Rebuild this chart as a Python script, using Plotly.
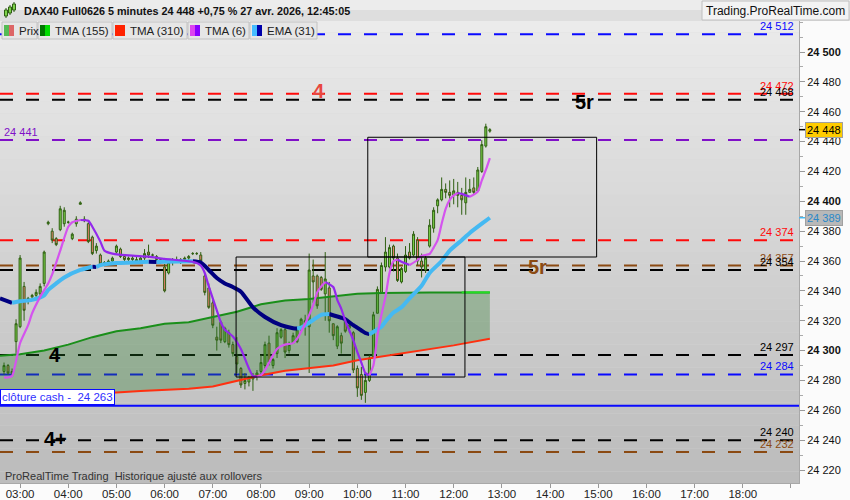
import pandas as pd
import plotly.graph_objects as go

DAY = "2026-04-27 "

# 5 minute bars from 02:40 to 12:45
bar_open = [24286, 24290, 24285, 24306, 24316, 24343, 24333, 24336, 24337, 24338,
            24345, 24385, 24380, 24375, 24381, 24385, 24386, 24375, 24385, 24398,
            24388, 24385, 24376, 24367, 24364, 24359, 24359, 24360, 24366, 24368,
            24363, 24361, 24362, 24361, 24360, 24362, 24366, 24364, 24363, 24361,
            24356, 24352, 24359, 24361, 24360, 24361, 24362, 24365, 24365, 24364,
            24350, 24342, 24332, 24309, 24319, 24306, 24312, 24304, 24296, 24288,
            24278, 24279, 24281, 24283, 24286, 24290, 24305, 24290, 24298, 24309,
            24314, 24300, 24305, 24306, 24314, 24318, 24316, 24350, 24350, 24349,
            24338, 24342, 24318, 24303, 24310, 24320, 24315, 24312, 24288, 24284,
            24272, 24280, 24296, 24325, 24339, 24356, 24356, 24370, 24362, 24346,
            24353, 24366, 24364, 24374, 24360, 24354, 24370, 24382, 24397, 24401,
            24408, 24406, 24404, 24406, 24404, 24399, 24406, 24409, 24407, 24420,
            24437, 24447]
bar_high = [24292, 24291, 24288, 24321, 24364, 24346, 24336, 24338, 24341, 24345,
            24367, 24387, 24382, 24376, 24397, 24396, 24387, 24379, 24390, 24400,
            24390, 24386, 24377, 24372, 24365, 24360, 24361, 24363, 24371, 24369,
            24364, 24363, 24364, 24363, 24363, 24368, 24371, 24365, 24364, 24362,
            24358, 24360, 24362, 24363, 24362, 24363, 24364, 24366, 24366, 24366,
            24352, 24345, 24334, 24316, 24320, 24316, 24314, 24306, 24309, 24289,
            24285, 24283, 24285, 24287, 24297, 24306, 24310, 24295, 24315, 24315,
            24316, 24306, 24312, 24316, 24322, 24324, 24365, 24361, 24351, 24350,
            24366, 24346, 24318, 24317, 24312, 24321, 24319, 24313, 24290, 24289,
            24285, 24297, 24326, 24343, 24359, 24376, 24371, 24371, 24365, 24356,
            24370, 24372, 24380, 24376, 24365, 24364, 24388, 24396, 24402, 24416,
            24412, 24414, 24415, 24413, 24409, 24416, 24415, 24416, 24423, 24441,
            24452, 24449]
bar_low = [24284, 24284, 24283, 24298, 24315, 24320, 24331, 24335, 24335, 24336,
           24343, 24384, 24372, 24370, 24380, 24383, 24385, 24374, 24383, 24398,
           24386, 24372, 24364, 24365, 24357, 24358, 24357, 24359, 24365, 24362,
           24360, 24359, 24360, 24359, 24359, 24360, 24362, 24363, 24360, 24358,
           24339, 24351, 24357, 24359, 24358, 24359, 24360, 24364, 24364, 24358,
           24337, 24328, 24315, 24300, 24305, 24305, 24302, 24296, 24285, 24275,
           24274, 24276, 24273, 24280, 24285, 24288, 24290, 24288, 24295, 24308,
           24295, 24298, 24305, 24305, 24313, 24310, 24285, 24332, 24328, 24340,
           24320, 24312, 24307, 24301, 24298, 24312, 24312, 24285, 24269, 24267,
           24265, 24279, 24295, 24325, 24338, 24353, 24355, 24353, 24346, 24345,
           24352, 24361, 24363, 24357, 24349, 24352, 24369, 24379, 24392, 24400,
           24402, 24396, 24398, 24396, 24391, 24391, 24406, 24405, 24407, 24419,
           24436, 24446]
bar_close = [24290, 24285, 24286, 24318, 24362, 24327, 24335, 24337, 24339, 24343,
             24366, 24386, 24374, 24371, 24395, 24394, 24386, 24378, 24388, 24399,
             24387, 24373, 24365, 24370, 24358, 24359, 24360, 24362, 24370, 24363,
             24361, 24362, 24361, 24360, 24362, 24365, 24364, 24364, 24361, 24360,
             24340, 24359, 24361, 24360, 24361, 24362, 24363, 24365, 24365, 24360,
             24339, 24329, 24317, 24307, 24307, 24315, 24304, 24298, 24291, 24277,
             24280, 24282, 24283, 24285, 24292, 24304, 24292, 24294, 24312, 24314,
             24299, 24304, 24310, 24314, 24321, 24320, 24354, 24346, 24330, 24341,
             24348, 24320, 24310, 24316, 24305, 24313, 24317, 24287, 24275, 24270,
             24280, 24295, 24324, 24341, 24357, 24366, 24369, 24362, 24347, 24355,
             24364, 24362, 24378, 24360, 24356, 24362, 24384, 24394, 24401, 24408,
             24406, 24404, 24407, 24404, 24401, 24406, 24408, 24406, 24421, 24438,
             24450, 24448]
bar_time = pd.date_range(DAY + "02:40", periods=len(bar_open), freq="5min")

# TMA (155) and TMA (310)
ma_time = ["02:35", "03:00", "03:30", "04:00", "04:30", "05:00", "05:30", "06:00",
           "06:30", "07:00", "07:30", "08:00", "08:30", "09:00", "09:30", "10:00",
           "10:30", "11:00", "11:30", "12:00", "12:10", "12:45"]
tma155 = [24296.5, 24297.5, 24300, 24304, 24309, 24313, 24315, 24318, 24319, 24322.5,
          24326, 24331, 24333.5, 24334.5, 24336, 24338, 24338.6, 24339, 24339, 24339,
          24339, 24339]
tma310 = [24268, 24268.5, 24269.5, 24270.5, 24271, 24272, 24273, 24273.5, 24274.5, 24276,
          24280, 24283.5, 24286.5, 24288.5, 24290, 24293.5, 24296, 24298, 24301, 24303.5,
          24304.5, 24308]

# TMA (6)
tma6_time = ["02:40", "02:45", "02:50", "02:55", "03:00", "03:10", "03:15", "03:25",
             "03:35", "03:40", "03:50", "04:00", "04:05", "04:15", "04:25", "04:30",
             "04:40", "04:45", "04:55", "05:20", "05:40", "06:00", "06:35", "06:45",
             "06:50", "06:55", "07:05", "07:10", "07:15", "07:25", "07:35", "07:45",
             "07:50", "07:55", "08:00", "08:05", "08:15", "08:20", "08:25", "08:30",
             "08:40", "08:45", "08:55", "09:05", "09:10", "09:15", "09:20", "09:30",
             "09:35", "09:40", "09:45", "09:55", "10:00", "10:05", "10:10", "10:15",
             "10:20", "10:25", "10:30", "10:35", "10:40", "10:45", "10:50", "10:55",
             "11:05", "11:15", "11:20", "11:30", "11:35", "11:40", "11:45", "11:50",
             "11:55", "12:00", "12:05", "12:10", "12:20", "12:30", "12:35", "12:40",
             "12:45"]
tma6 = [24282, 24282, 24283, 24293, 24305, 24317, 24325, 24336,
        24345, 24351, 24367, 24383, 24386, 24387.5, 24387, 24383,
        24373, 24367, 24365, 24363.6, 24363, 24361.4, 24359.5, 24357,
        24352, 24343, 24327, 24319, 24314, 24309.5, 24301, 24288,
        24283, 24282.5, 24283.5, 24287, 24297, 24301, 24303, 24304,
        24305, 24308, 24318, 24330.5, 24339, 24343, 24346, 24342.6,
        24334, 24328, 24320, 24307, 24299, 24292, 24285, 24283.5,
        24290, 24310, 24324, 24336, 24352, 24360, 24361, 24359.5,
        24357.3, 24360.7, 24363.5, 24364.7, 24369, 24374, 24385, 24395,
        24401, 24404, 24405.6, 24405, 24403, 24406.5, 24414, 24421,
        24429]

# EMA (31)
ema31_time = ["02:35", "02:50", "03:00", "03:15", "03:30", "03:35", "03:45", "03:55",
              "04:15", "04:30", "04:35", "04:40", "05:00", "05:20", "05:40", "05:50",
              "06:00", "06:35", "06:45", "06:55", "07:05", "07:15", "07:25", "07:35",
              "07:50", "08:05", "08:25", "08:40", "08:45", "08:50", "09:05", "09:15",
              "09:25", "09:40", "09:45", "09:55", "10:05", "10:10", "10:15", "10:30",
              "10:35", "10:45", "10:55", "11:05", "11:20", "11:30", "11:45", "11:55",
              "12:10", "12:20", "12:35", "12:45"]
ema31 = [24335, 24332, 24333, 24334, 24337, 24340.6, 24345, 24349,
         24354, 24356.2, 24356.0, 24357.3, 24358.7, 24359, 24359.5, 24359.3,
         24359.5, 24359.9, 24359.0, 24354, 24348.6, 24345, 24342.6, 24339.5,
         24329, 24322.5, 24317, 24315, 24314.8, 24315.4, 24320.5, 24324,
         24324.5, 24322, 24321, 24317, 24313.5, 24311.8, 24311, 24316,
         24319.5, 24325.5, 24329, 24335, 24343.5, 24352, 24360, 24367,
         24374, 24378.8, 24385, 24389]

# horizontal levels
level_values = [24512, 24472, 24468, 24441, 24374, 24357, 24354, 24297, 24284, 24240, 24232]
level_labels = ["24 512", "24 472", "24 468", "24 441", "24 374", "24 357", "24 354",
                "24 297", "24 284", "24 240", "24 232"]
level_kinds = ["blue", "red", "black", "purple", "red", "brown", "black",
               "black", "blue", "black", "brown"]
cash_close = 24263
last_price = 24448
last_ema = 24389

# rectangles drawn on the chart (time from, time to, low, high)
boxes = [("07:29", "12:14", 24282.3, 24362.7),
         ("10:13", "14:58", 24362.7, 24442.9)]

# wave labels (text, time, price, kind)
wave_labels = [("4", "09:12", 24474, "red4"), ("5r", "14:43", 24466.5, "black"),
               ("5r", "13:44", 24356, "brown"), ("4", "03:44", 24297, "black"),
               ("4+", "03:44", 24240.8, "black")]

y_ticks = [24220, 24240, 24260, 24280, 24300, 24320, 24340, 24360, 24380,
           24400, 24420, 24440, 24460, 24480, 24500]
y_ticktext = ["24 220", "24 240", "24 260", "24 280", "<b>24 300</b>", "24 320", "24 340",
              "24 360", "24 380", "<b>24 400</b>", "24 420", "24 440", "24 460", "24 480",
              "<b>24 500</b>"]
x_ticks = ["03:00", "04:00", "05:00", "06:00", "07:00", "08:00", "09:00", "10:00", "11:00",
           "12:00", "13:00", "14:00", "15:00", "16:00", "17:00", "18:00", "19:00"]
x_ticktext = x_ticks[:-1] + [""]

COL = {"blue": "#0a0aff", "red": "#ff0a0a", "black": "#000000", "purple": "#8010c8",
       "brown": "#8b4a12", "red4": "#e8473f"}
FONT = "Arial, Liberation Sans, sans-serif"


def t(hm):
    return DAY + hm


def px_x(x):
    return x / 799


def px_y(y):
    return (483 - y) / 462


def split_by_slope(times, vals):
    up_t, up_v, dn_t, dn_v = [], [], [], []
    for k in range(len(vals) - 1):
        tt, vv = (up_t, up_v) if vals[k + 1] >= vals[k] else (dn_t, dn_v)
        if tt and tt[-1] == times[k]:
            tt.append(times[k + 1])
            vv.append(vals[k + 1])
        else:
            if tt:
                tt.append(None)
                vv.append(None)
            tt += [times[k], times[k + 1]]
            vv += [vals[k], vals[k + 1]]
    return up_t, up_v, dn_t, dn_v


fig = go.Figure()

# TMA 310 / TMA 155 with the zone between them
ma_x = [t(s) for s in ma_time]
fig.add_trace(go.Scatter(x=ma_x, y=tma310, mode="lines", line=dict(color="#ff3010", width=2),
                         hoverinfo="skip", showlegend=False))
fig.add_trace(go.Scatter(x=ma_x, y=tma155, mode="lines", line=dict(color="#1a8f1a", width=2),
                         fill="tonexty", fillcolor="rgba(40,120,40,0.32)",
                         hoverinfo="skip", showlegend=False))
fig.add_trace(go.Scatter(x=ma_x[-2:], y=tma155[-2:], mode="lines",
                         line=dict(color="#22dd22", width=2), hoverinfo="skip", showlegend=False))

fig.add_trace(go.Candlestick(
    x=bar_time, open=bar_open, high=bar_high, low=bar_low, close=bar_close,
    increasing=dict(line=dict(color="#2f5f12", width=1), fillcolor="#7dd34a"),
    decreasing=dict(line=dict(color="#2f5f12", width=1), fillcolor="#ec8270"),
    whiskerwidth=0, hoverinfo="skip", showlegend=False))

ut, uv, dt, dv = split_by_slope([t(s) for s in ema31_time], ema31)
fig.add_trace(go.Scatter(x=dt, y=dv, mode="lines", line=dict(color="#000080", width=4, shape="spline", smoothing=0.6),
                         hoverinfo="skip", showlegend=False))
fig.add_trace(go.Scatter(x=ut, y=uv, mode="lines", line=dict(color="#45b9f2", width=4, shape="spline", smoothing=0.6),
                         hoverinfo="skip", showlegend=False))

ut, uv, dt, dv = split_by_slope([t(s) for s in tma6_time], tma6)
fig.add_trace(go.Scatter(x=dt, y=dv, mode="lines", line=dict(color="#9328ec", width=2.2, shape="spline", smoothing=0.6),
                         hoverinfo="skip", showlegend=False))
fig.add_trace(go.Scatter(x=ut, y=uv, mode="lines", line=dict(color="#d454ee", width=2.2, shape="spline", smoothing=0.6),
                         hoverinfo="skip", showlegend=False))

shapes = []
# background gradient of the price panel
n_band = 40
for k in range(n_band):
    f = k / (n_band - 1)
    g = int(235 - 47 * f)
    shapes.append(dict(type="rect", xref="paper", yref="paper", x0=0, x1=1,
                       y0=1 - (k + 1) / n_band, y1=1 - k / n_band,
                       fillcolor=f"rgb({g},{g},{g})", line=dict(width=0), layer="below"))

for v, kind in zip(level_values, level_kinds):
    shapes.append(dict(type="line", xref="paper", x0=0, x1=1, yref="y", y0=v, y1=v,
                       line=dict(color=COL[kind], width=2, dash="13px,13px"), layer="below"))
shapes.append(dict(type="line", xref="paper", x0=0, x1=1, yref="y", y0=cash_close, y1=cash_close,
                   line=dict(color="#0a0aff", width=2), layer="below"))

for a, b, lo, hi in boxes:
    shapes.append(dict(type="rect", xref="x", yref="y", x0=t(a), x1=t(b), y0=lo, y1=hi,
                       line=dict(color="#000000", width=1), fillcolor="rgba(0,0,0,0)"))

# axis markers for the last price and last EMA
shapes.append(dict(type="line", xref="paper", yref="y", x0=1, x1=1 + 6 / 799, y0=last_price, y1=last_price,
                   line=dict(color="#000000", width=1.5)))
shapes.append(dict(type="line", xref="paper", yref="y", x0=1, x1=1 + 6 / 799, y0=last_ema, y1=last_ema,
                   line=dict(color="#45b9f2", width=1.5)))

# title bar
shapes.append(dict(type="rect", xref="paper", yref="paper", x0=0, x1=850 / 799,
                   y0=px_y(21), y1=px_y(10), fillcolor="#dedede", line=dict(width=0)))
shapes.append(dict(type="rect", xref="paper", yref="paper", x0=0, x1=850 / 799,
                   y0=px_y(10), y1=px_y(0), fillcolor="#ececec", line=dict(width=0)))
shapes.append(dict(type="rect", xref="paper", yref="paper", x0=px_x(702), x1=px_x(849),
                   y0=px_y(20), y1=px_y(1), fillcolor="#f3f3f3", line=dict(color="#c0c0c0", width=1)))
# small candle icon
for cx, top, bot in [(6, 10, 16), (10, 7, 13), (14, 4, 10)]:
    shapes.append(dict(type="line", xref="paper", yref="paper", x0=px_x(cx), x1=px_x(cx),
                       y0=px_y(bot + 2), y1=px_y(top - 2), line=dict(color="#2f5f12", width=1)))
    shapes.append(dict(type="rect", xref="paper", yref="paper", x0=px_x(cx - 1.5), x1=px_x(cx + 1.5),
                       y0=px_y(bot), y1=px_y(top), fillcolor="#7dd34a", line=dict(color="#2f5f12", width=1)))

# legend chips
chips = [(2, 37, "Prix", "#55bb55", "#dd6666"),
         (38, 112, "TMA (155)", "#007700", "#00dd00"),
         (113, 187, "TMA (310)", "#ff2200", "#ff2200"),
         (188, 249, "TMA (6)", "#dd44ee", "#8800ff"),
         (250, 317, "EMA (31)", "#44bbff", "#0000aa")]
annotations = []
for x0, x1, label, ca, cb in chips:
    shapes.append(dict(type="rect", xref="paper", yref="paper", x0=px_x(x0), x1=px_x(x1),
                       y0=px_y(39), y1=px_y(22), fillcolor="#e6e6e6", line=dict(color="#c2c2c2", width=1)))
    shapes.append(dict(type="rect", xref="paper", yref="paper", x0=px_x(x0 + 2), x1=px_x(x0 + 7),
                       y0=px_y(36), y1=px_y(25), fillcolor=ca, line=dict(width=0)))
    shapes.append(dict(type="rect", xref="paper", yref="paper", x0=px_x(x0 + 7), x1=px_x(x0 + 12),
                       y0=px_y(36), y1=px_y(25), fillcolor=cb, line=dict(width=0)))
    annotations.append(dict(xref="paper", yref="paper", x=px_x(x0 + 15), y=px_y(30.5), text=label,
                            showarrow=False, xanchor="left", yanchor="middle",
                            font=dict(family=FONT, size=11.5, color="#222222")))

annotations.append(dict(xref="paper", yref="paper", x=px_x(22), y=px_y(11),
                        text="<b>DAX40 Full0626 5 minutes 24 448 +0,75 % 27 avr. 2026, 12:45:05</b>",
                        showarrow=False, xanchor="left", yanchor="middle",
                        font=dict(family=FONT, size=10.8, color="#111111")))
annotations.append(dict(xref="paper", yref="paper", x=px_x(775.5), y=px_y(11),
                        text="Trading.ProRealTime.com", showarrow=False, xanchor="center",
                        yanchor="middle", font=dict(family=FONT, size=12, color="#111111")))
annotations.append(dict(xref="paper", yref="paper", x=px_x(3), y=px_y(476),
                        text="ProRealTime Trading  Historique ajusté aux rollovers".replace("  ", "\u00a0 "),
                        showarrow=False, xanchor="left", yanchor="middle",
                        font=dict(family=FONT, size=11, color="#333333")))

for v, lab, kind in zip(level_values, level_labels, level_kinds):
    left = kind == "purple"
    annotations.append(dict(xref="paper", yref="y", x=0 if left else 1, y=v, text=lab,
                            xshift=2 if left else -3, showarrow=False,
                            xanchor="left" if left else "right", yanchor="bottom",
                            font=dict(family=FONT, size=11, color=COL[kind])))

annotations.append(dict(xref="paper", yref="y", x=0, y=cash_close, yshift=1,
                        text="clôture cash -\u00a0 24 263", showarrow=False,
                        xanchor="left", yanchor="bottom", bgcolor="#ffffff",
                        bordercolor="#0a0aff", borderwidth=1, borderpad=1,
                        font=dict(family=FONT, size=11.5, color="#3030ff")))

for txt, hm, price, kind in wave_labels:
    annotations.append(dict(xref="x", yref="y", x=t(hm), y=price, text=f"<b>{txt}</b>",
                            showarrow=False, xanchor="center", yanchor="middle",
                            font=dict(family=FONT, size=20, color=COL[kind])))

annotations.append(dict(xref="paper", yref="y", x=1, y=last_price, xshift=6,
                        text="24 448", showarrow=False, xanchor="left", yanchor="middle",
                        bgcolor="#ffcc00", bordercolor="#a0a0a0", borderwidth=1, borderpad=1,
                        font=dict(family=FONT, size=11, color="#000000")))
annotations.append(dict(xref="paper", yref="y", x=1, y=last_ema, xshift=6,
                        text="24 389", showarrow=False, xanchor="left", yanchor="middle",
                        bgcolor="#b8b8b8", bordercolor="#a0a0a0", borderwidth=1, borderpad=1,
                        font=dict(family=FONT, size=11, color="#2a88c8")))

fig.update_layout(
    width=850, height=500,
    margin=dict(l=0, r=51, t=21, b=17, pad=0, autoexpand=False),
    paper_bgcolor="#fbfbfb", plot_bgcolor="#d8d8d8",
    font=dict(family=FONT, size=11, color="#111111"),
    shapes=shapes, annotations=annotations,
    xaxis=dict(type="date", range=[t("02:35"), t("19:10")], automargin=False,
               tickvals=[t(s) for s in x_ticks], ticktext=x_ticktext,
               ticks="outside", ticklen=4, tickcolor="#999999", ticklabelstandoff=-4,
               showline=True, linecolor="#a8a8a8", showgrid=False, zeroline=False,
               rangeslider=dict(visible=False), tickfont=dict(size=11.5, color="#222222")),
    yaxis=dict(side="right", range=[24211.3, 24520.8], tickvals=y_ticks, ticktext=y_ticktext,
               automargin=False, ticks="outside", ticklen=5, tickcolor="#999999",
               minor=dict(dtick=10, tick0=24200, ticks="outside", ticklen=3, tickcolor="#aaaaaa"),
               showline=True, linecolor="#a8a8a8", showgrid=False, zeroline=False,
               tickfont=dict(size=11, color="#111111")),
)

# the page body has a default margin; drop it so the figure sits at the window corner
fig.write_html("out.html", config={"displayModeBar": False},
               post_script="document.body.style.margin='0';document.body.style.overflow='hidden';")
